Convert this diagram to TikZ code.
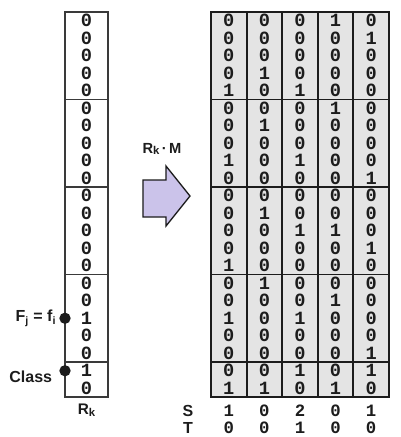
\documentclass[tikz,border=0pt]{standalone}
\usepackage{fontspec}
\setmainfont{Liberation Sans}
\newfontfamily\bitfont{Liberation Mono}
\usetikzlibrary{positioning}
\definecolor{ink}{HTML}{1C1C1C}
\definecolor{frame}{HTML}{3A3A3A}
\definecolor{cellgray}{HTML}{E4E4E4}
\definecolor{lilac}{HTML}{CBC3EA}
\newcommand{\lowk}{\raisebox{-1.2pt}{\fontsize{8.5}{8.5}\selectfont k}}

\begin{document}
\begin{tikzpicture}[x=0.75pt, y=-0.75pt,
  bit/.style={font=\bitfont\bfseries\fontsize{14}{14}\selectfont, text=ink, inner sep=0pt},
  lbl/.style={font=\bfseries\fontsize{12}{12}\selectfont, text=ink, inner sep=0pt},
  dot/.style={circle, fill=ink, inner sep=0pt, minimum size=8.5pt},
  grid/.style={draw=ink, line width=1.4pt},
  col/.style={draw=frame, line width=1.1pt}]
\useasboundingbox (0,0) rectangle (401,437);
% left vector R_k
\fill[white] (65,12) rectangle (108,397);
\foreach \b [count=\r] in {0,0,0,0,0, 0,0,0,0,0, 0,0,0,0,0, 0,0,1,0,0, 1,0}
  \node[bit] (r-\r) at (86.5,{12+17.5*(\r-0.5)}) {\b};
\foreach \g in {99.5,187,274.5,362}
  \draw[col] (65,\g) -- (108,\g);
\draw[col] (65,12) rectangle (108,397);
\node[lbl, font=\bfseries\fontsize{11.5}{11.5}\selectfont] (rk) at (86.5,410) {R\lowk};
% marked entries
\node[dot] (fj) at (65,{12+17.5*17.5}) {};
\node[dot] (cl) at (65,{12+17.5*20.5}) {};
\node[lbl, left=2pt of fj] (fjl) {F\textsubscript{j} = f\textsubscript{i}};
\node[lbl, left=5pt of cl, yshift=-4.5pt] (cll) {Class};
% product arrow
\node[lbl, font=\bfseries\fontsize{11}{11}\selectfont] (op) at (162,149) {R\lowk\,·\,M};
\draw[draw=ink, line width=1pt, fill=lilac, line join=miter]
  (143,180) -- (166,180) -- (166,166) -- (190,196) -- (166,226) -- (166,217) -- (143,217) -- cycle;
% matrix M
\fill[cellgray] (211,12) rectangle (389,397);
\foreach \row [count=\r] in {
  {0,0,0,1,0},{0,0,0,0,1},{0,0,0,0,0},{0,1,0,0,0},{1,0,1,0,0},
  {0,0,0,1,0},{0,1,0,0,0},{0,0,0,0,0},{1,0,1,0,0},{0,0,0,0,1},
  {0,0,0,0,0},{0,1,0,0,0},{0,0,1,1,0},{0,0,0,0,1},{1,0,0,0,0},
  {0,1,0,0,0},{0,0,0,1,0},{1,0,1,0,0},{0,0,0,0,0},{0,0,0,0,1},
  {0,0,1,0,1},{1,1,0,1,0}}
  \foreach \b [count=\c] in \row
    \node[bit] (m-\r-\c) at ({228.8+35.6*(\c-1)},{12+17.5*(\r-0.5)}) {\b};
\foreach \g in {99.5,187,274.5,362}
  \draw[grid] (211,\g) -- (389,\g);
\foreach \c in {1,...,4}
  \draw[grid] ({211+35.6*\c},12) -- ({211+35.6*\c},397);
\draw[grid] (211,12) rectangle (389,397);
% sums
\node[lbl] (s) at (188,411) {S};
\node[lbl] (t) at (188,428) {T};
\foreach \b [count=\c] in {1,0,2,0,1}
  \node[bit, font=\bitfont\bfseries\fontsize{13}{13}\selectfont] (s-\c) at ({228.8+35.6*(\c-1)},411) {\b};
\foreach \b [count=\c] in {0,0,1,0,0}
  \node[bit, font=\bitfont\bfseries\fontsize{13}{13}\selectfont] (t-\c) at ({228.8+35.6*(\c-1)},428) {\b};
\end{tikzpicture}
\end{document}
